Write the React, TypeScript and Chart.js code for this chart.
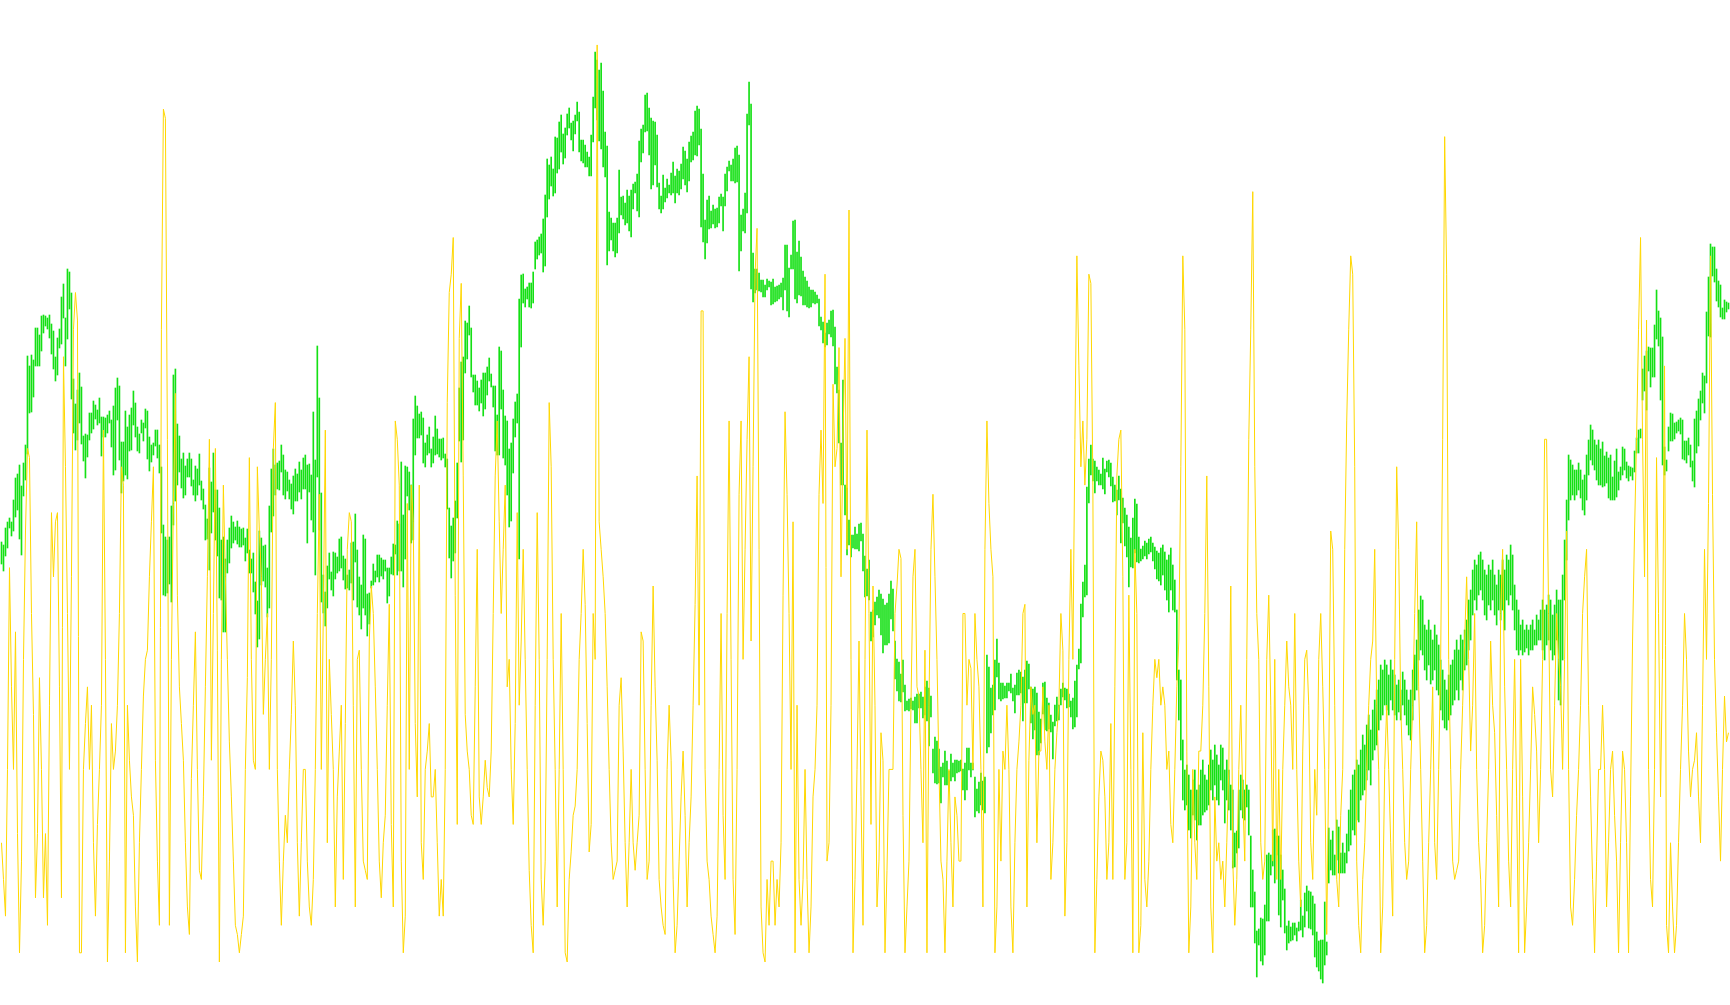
import React, { useEffect, useRef } from "react";
import { Chart, registerables } from "chart.js";

Chart.register(...registerables);

// Bar highs (price units, bar index 0..864)
const greenHigh: number[] = [
  463,460,477,483,487,483,505,527,531,540, 519,542,560,649,639,650,645,677,677,670,
  689,690,689,687,690,681,674,648,667,676, 708,721,687,736,733,712,626,601,615,632,
  618,569,571,570,592,592,604,600,595,607, 588,588,587,590,594,585,599,617,627,619,
  563,563,594,578,590,597,614,602,578,571, 585,582,596,594,568,560,562,575,575,560,
  538,480,468,465,468,499,630,636,581,569, 546,552,539,546,552,546,525,539,536,551,
  524,516,500,486,537,523,552,515,515,497, 465,468,446,465,477,489,483,478,484,478,
  476,477,467,476,455,446,452,423,404,474, 467,459,460,437,499,536,556,540,542,544,
  560,550,535,533,525,521,529,536,531,543, 535,547,550,540,541,530,593,545,659,607,
  512,430,413,439,452,433,453,452,448,466, 468,449,446,430,435,462,463,491,455,428,
  420,470,466,411,412,424,441,434,450,450, 447,445,445,437,437,448,461,460,484,481,
  543,490,539,538,533,520,586,609,599,591, 593,587,562,570,578,556,568,589,576,566,
  566,567,551,546,497,479,487,504,542,617, 643,648,684,682,699,677,630,630,624,617,
  625,632,632,638,647,631,619,619,590,658, 654,615,589,584,556,562,586,603,611,706,
  730,731,716,718,722,722,733,763,765,768, 771,786,810,846,840,848,836,868,867,883,
  890,871,877,891,897,882,884,890,903,893, 865,865,860,853,848,870,908,953,945,935,
  942,914,873,859,793,787,782,782,787,835, 808,809,802,815,809,815,821,823,831,864,
  876,880,910,912,897,887,884,883,870,822, 809,830,817,826,820,832,843,829,836,834,
  841,858,854,846,863,869,873,894,899,896, 876,831,785,805,809,794,800,796,797,808,
  811,808,831,838,844,840,846,857,859,850, 790,796,812,891,923,901,752,736,736,732,
  725,725,720,726,724,723,726,718,719,720, 722,727,760,760,737,750,784,785,753,764,
  748,734,728,724,718,715,715,713,710,706, 688,683,672,682,685,694,695,678,638,615,
  562,625,520,517,485,470,470,478,471,481, 482,471,449,436,445,393,395,403,408,415,
  411,406,400,402,411,424,416,364,346,343, 331,345,320,304,306,307,304,308,311,311,
  313,308,318,324,317,309,256,268,264,256, 238,242,254,244,234,251,242,245,245,244,
  245,236,242,257,257,242,242,228,216,223, 232,224,228,350,338,317,320,345,366,342,
  322,322,319,322,322,331,317,320,332,335, 333,328,335,344,341,318,316,318,312,293,
  286,322,323,307,302,290,283,300,308,300, 316,322,317,316,311,304,307,324,340,356,
  401,423,440,518,546,560,546,544,538,535, 531,547,536,544,545,542,528,520,515,529,
  516,507,497,490,478,467,487,506,501,468, 456,459,464,462,466,468,462,458,454,452,
  457,460,453,445,450,457,440,425,395,335, 325,265,235,240,230,215,225,235,215,220,
  235,245,230,225,240,255,245,260,250,240, 260,257,235,245,235,220,215,172,174,215,
  230,225,215,220,215,169,135,113,74,76, 87,86,100,150,152,150,175,176,169,169,
  150,135,116,79,84,78,82,82,77,83, 105,89,112,119,114,113,109,101,73,64,
  65,65,103,63,177,165,174,150,185,178, 152,162,152,171,195,215,230,235,245,240,
  255,270,260,280,290,275,295,305,315,325, 340,335,345,340,330,345,335,330,320,325,
  315,333,325,315,305,315,335,350,365,395, 409,405,380,375,385,375,365,380,370,360,
  345,335,325,315,330,340,345,355,365,355, 370,365,375,385,405,415,435,445,440,450,
  453,445,435,430,440,435,445,430,420,435, 430,445,435,450,445,460,450,420,405,395,
  380,385,375,380,375,380,385,375,390,385, 395,405,395,400,410,405,390,400,415,405,
  405,430,465,505,550,545,540,535,535,542, 535,525,530,550,565,580,575,565,560,565,
  556,563,549,553,547,550,528,544,556,533, 538,558,556,543,539,538,537,554,567,575,
  576,636,649,654,658,657,657,680,715,694, 687,668,558,545,578,592,591,582,583,585,
  587,585,564,564,567,560,544,586,594,606, 614,632,629,693,728,761,758,758,736,724,
  720,697,705,703,702
];

// Bar lows
const greenLow: number[] = [
  441,434,449,457,477,469,474,488,495,466, 450,509,525,551,592,593,608,639,639,639,
  654,672,679,676,667,651,636,624,630,657, 661,687,639,666,696,606,572,555,565,582,
  561,544,527,548,565,572,576,586,580,582, 549,568,568,572,582,558,530,535,585,545,
  512,524,530,526,554,555,580,568,554,552, 572,564,577,546,534,543,550,559,547,532,
  472,410,409,412,421,403,480,504,520,533, 517,507,510,528,528,519,510,504,510,520,
  505,496,465,466,435,472,493,465,449,407, 405,373,373,432,442,457,462,465,461,458,
  458,460,444,452,432,432,413,391,358,366, 420,424,418,388,397,473,489,510,516,515,
  533,510,506,514,506,496,491,504,504,513, 506,516,516,462,513,485,473,430,528,475,
  403,392,379,397,426,415,409,426,432,434, 437,425,416,417,415,422,405,443,398,390,
  376,397,390,369,381,417,420,423,428,423, 429,426,434,402,409,431,430,451,430,434,
  434,418,446,509,495,462,465,550,567,567, 570,542,538,550,552,538,542,550,551,548,
  545,547,538,496,447,427,444,452,487,564, 543,565,632,646,670,628,613,600,600,594,
  602,589,596,610,624,618,598,554,550,550, 596,547,540,510,478,484,532,568,582,446,
  658,702,698,706,698,697,702,736,746,750, 752,733,739,788,806,819,809,812,832,836,
  853,841,847,870,877,865,854,871,884,853, 844,842,838,838,829,829,863,897,885,864,
  856,838,828,740,754,765,754,748,752,772, 790,786,780,782,774,768,796,812,794,788,
  843,852,873,874,850,816,820,840,818,796, 792,796,803,807,812,810,812,802,812,810,
  816,826,820,813,824,843,845,850,849,860, 778,763,746,762,776,777,781,777,778,782,
  799,774,799,814,834,824,824,822,823,734, 754,774,772,792,880,716,703,712,715,714,
  713,708,708,715,718,700,701,703,704,706, 708,695,715,694,688,736,736,706,702,710,
  709,700,700,698,697,698,702,701,702,679, 675,662,658,660,671,668,659,621,612,562,
  520,520,490,450,460,448,457,456,456,454, 464,434,408,409,405,364,368,380,390,387,
  370,352,360,360,362,386,374,326,314,304, 303,313,294,295,294,296,295,282,282,297,
  297,287,290,284,259,288,232,222,221,222, 202,228,220,220,214,224,228,224,232,233,
  234,215,205,215,235,228,235,188,194,192, 200,195,192,252,258,272,290,295,328,306,
  304,306,307,307,314,312,304,292,310,310, 312,284,302,302,316,282,266,275,250,250,
  262,291,275,274,276,273,246,279,284,285, 300,308,305,297,298,288,276,278,288,336,
  342,388,408,410,502,530,524,512,524,520, 520,516,511,533,528,519,503,504,490,505,
  462,482,459,448,418,438,437,452,443,442, 444,446,449,446,451,453,444,436,426,424,
  420,430,415,405,393,415,395,393,325,285, 245,205,195,200,175,167,190,185,165,180,
  180,190,193,195,200,215,205,220,205,200, 225,215,182,205,195,175,137,138,152,157,
  195,187,185,198,170,98,98,62,28,60, 44,40,50,84,84,130,139,122,150,90,
  78,105,72,55,62,64,65,70,64,74, 75,68,78,94,77,76,70,48,38,34,
  26,22,40,50,122,135,130,130,145,132, 132,132,132,142,154,160,175,170,185,183,
  205,210,215,225,235,220,245,255,260,275, 285,290,300,295,290,305,295,290,285,293,
  285,300,290,280,270,265,285,305,315,345, 355,350,335,325,340,321,325,335,315,310,
  295,285,277,275,285,290,300,305,315,305, 325,315,335,340,355,365,390,405,395,410,
  415,405,390,385,400,395,405,390,380,395, 385,395,375,405,400,410,395,375,355,350,
  355,350,353,357,350,355,355,360,360,365, 365,355,345,360,365,355,345,350,365,305,
  300,345,405,445,485,505,510,505,510,515, 507,495,490,505,530,545,540,535,525,520,
  520,518,519,522,507,505,505,505,508,515, 525,530,535,527,524,529,525,533,552,552,
  567,605,614,595,634,618,628,628,666,659, 605,540,530,534,554,564,564,566,572,574,
  571,546,545,542,550,538,524,518,552,559, 585,602,592,622,669,668,729,723,704,698,
  688,686,686,693,696
];

// Oscillator (0..100), one value per bar
const oscillator: number[] = [
  13,9,5,21,43,30,21,36,14,1, 11,33,47,56,55,38,27,7,14,31,
  21,7,14,4,28,49,42,48,49,30, 7,66,54,38,21,42,69,73,70,1,
  1,21,26,30,21,28,13,5,15,21, 28,58,33,0,11,26,21,23,28,38,
  54,52,1,28,22,18,16,6,0,13, 21,29,33,34,42,48,54,22,11,4,
  69,93,92,57,4,33,50,62,40,30, 26,22,13,6,3,20,28,36,21,10,
  9,18,30,42,57,22,38,56,34,0, 33,52,42,33,24,18,11,4,3,1,
  3,5,21,31,55,33,22,21,54,47, 42,27,33,38,21,33,56,61,21,11,
  4,11,16,13,21,27,35,28,13,5, 13,21,21,11,6,4,9,21,38,51,
  21,38,58,13,33,27,21,6,18,23, 28,9,26,45,49,48,28,6,33,34,
  21,11,10,9,35,41,38,30,21,11, 7,13,16,28,39,15,6,59,57,52,
  11,1,5,50,21,52,48,26,18,52, 13,9,21,23,26,18,18,21,13,5,
  9,5,21,61,73,75,79,40,15,68, 74,53,27,23,21,16,15,30,45,18,
  15,18,22,19,18,23,38,53,59,48, 38,45,52,30,33,21,15,26,49,28,
  35,45,33,21,10,4,1,28,49,33, 9,4,11,33,61,54,33,21,6,21,
  38,21,1,0,9,12,16,17,21,33, 38,45,39,26,12,15,38,33,100,48,
  45,42,38,30,21,13,9,10,11,28, 31,23,13,6,13,21,13,10,13,16,
  36,35,21,9,11,28,41,30,22,9, 6,4,3,21,28,22,9,1,4,11,
  18,23,16,6,13,18,28,39,53,28, 71,71,21,11,9,5,3,1,5,21,
  38,16,9,38,59,33,9,3,21,51, 59,33,45,57,66,35,54,75,80,45,
  6,1,0,9,4,11,11,4,9,6, 13,40,60,51,38,21,48,1,28,9,
  4,9,21,9,1,6,18,21,28,51, 58,50,75,11,13,28,63,54,56,67,
  42,57,68,45,82,33,1,9,21,35, 18,4,33,58,38,15,41,28,6,11,
  25,22,1,10,21,21,21,38,41,45, 44,16,1,6,11,28,42,45,30,29,
  21,13,34,1,28,45,51,42,33,21, 11,9,1,11,21,13,6,18,16,11,
  11,38,38,28,33,32,21,38,33,30, 21,6,45,59,50,45,42,1,6,21,
  11,23,21,28,21,6,1,13,21,24, 28,38,39,6,22,30,27,28,13,23,
  23,30,24,21,28,9,13,21,25,28, 38,34,5,13,33,45,33,57,77,65,
  54,59,52,57,75,74,52,1,9,18, 23,22,18,9,13,26,9,30,53,57,
  58,42,9,13,40,21,1,45,38,1, 4,25,9,6,11,21,28,33,31,33,
  28,30,28,21,23,15,13,21,30,35, 54,77,69,23,1,6,21,13,9,23,
  23,28,38,53,30,6,1,18,11,13, 9,11,6,13,21,41,11,4,9,21,
  28,18,11,33,57,69,84,54,38,33, 13,9,11,33,40,28,11,33,9,21,
  9,21,28,35,30,28,21,38,21,11, 6,23,33,34,28,13,9,21,16,33,
  38,30,21,3,21,47,45,28,9,6, 16,21,45,59,69,77,75,54,11,4,
  1,9,13,21,28,33,35,45,28,21, 1,6,21,28,21,13,5,33,54,45,
  28,21,13,9,11,21,28,38,48,30, 21,11,1,4,13,21,30,13,9,21,
  33,57,90,75,33,21,11,9,10,11, 21,28,35,42,33,23,28,38,21,13,
  9,1,4,13,21,35,28,25,16,6, 38,45,30,21,11,6,21,33,18,1,
  33,18,1,6,13,21,30,27,23,13, 21,33,57,57,38,21,18,28,38,33,
  30,21,33,47,21,6,4,9,16,21, 28,38,42,45,28,18,9,1,11,21,
  21,28,21,6,13,21,23,16,11,1, 13,23,21,13,1,18,35,47,57,69,
  79,57,42,70,21,9,6,21,55,38, 18,33,65,4,1,13,6,1,4,13,
  21,28,38,33,23,18,21,22,25,18, 13,28,45,33,50,77,51,33,25,18,
  11,21,29,24,25
];

const W = 1730;
const H = 1005;

export default function App() {
  const ref = useRef<HTMLCanvasElement | null>(null);

  useEffect(() => {
    const canvas = ref.current;
    if (!canvas) return;
    const n = greenHigh.length;
    const bars = greenHigh.map((h, i) => ({ x: i, y: [greenLow[i], h] }));
    const osc = oscillator.map((v, i) => ({ x: i, y: v }));

    const chart = new Chart(canvas, {
      type: "bar",
      data: {
        datasets: [
          {
            type: "line",
            data: osc as any,
            yAxisID: "y2",
            borderColor: "#FFD700",
            borderWidth: 1,
            pointRadius: 0,
            tension: 0,
            fill: false,
          } as any,
          {
            type: "bar",
            data: bars as any,
            yAxisID: "y",
            backgroundColor: "#14E014",
            borderWidth: 0,
            barThickness: 1,
          } as any,
        ],
      },
      options: {
        animation: false,
        responsive: false,
        devicePixelRatio: 1,
        events: [],
        layout: { padding: 0 },
        plugins: { legend: { display: false }, tooltip: { enabled: false } },
        scales: {
          x: { type: "linear", min: -0.75, max: n - 0.25, offset: false, display: false },
          y: { type: "linear", min: 0, max: H, display: false },
          y2: { type: "linear", min: -4.69, max: 104.9, display: false },
        },
      } as any,
    });
    return () => chart.destroy();
  }, []);

  return (
    <div style={{ position: "fixed", left: 0, top: 0, width: W, height: H, background: "#ffffff" }}>
      <canvas ref={ref} width={W} height={H} style={{ display: "block" }} />
    </div>
  );
}
